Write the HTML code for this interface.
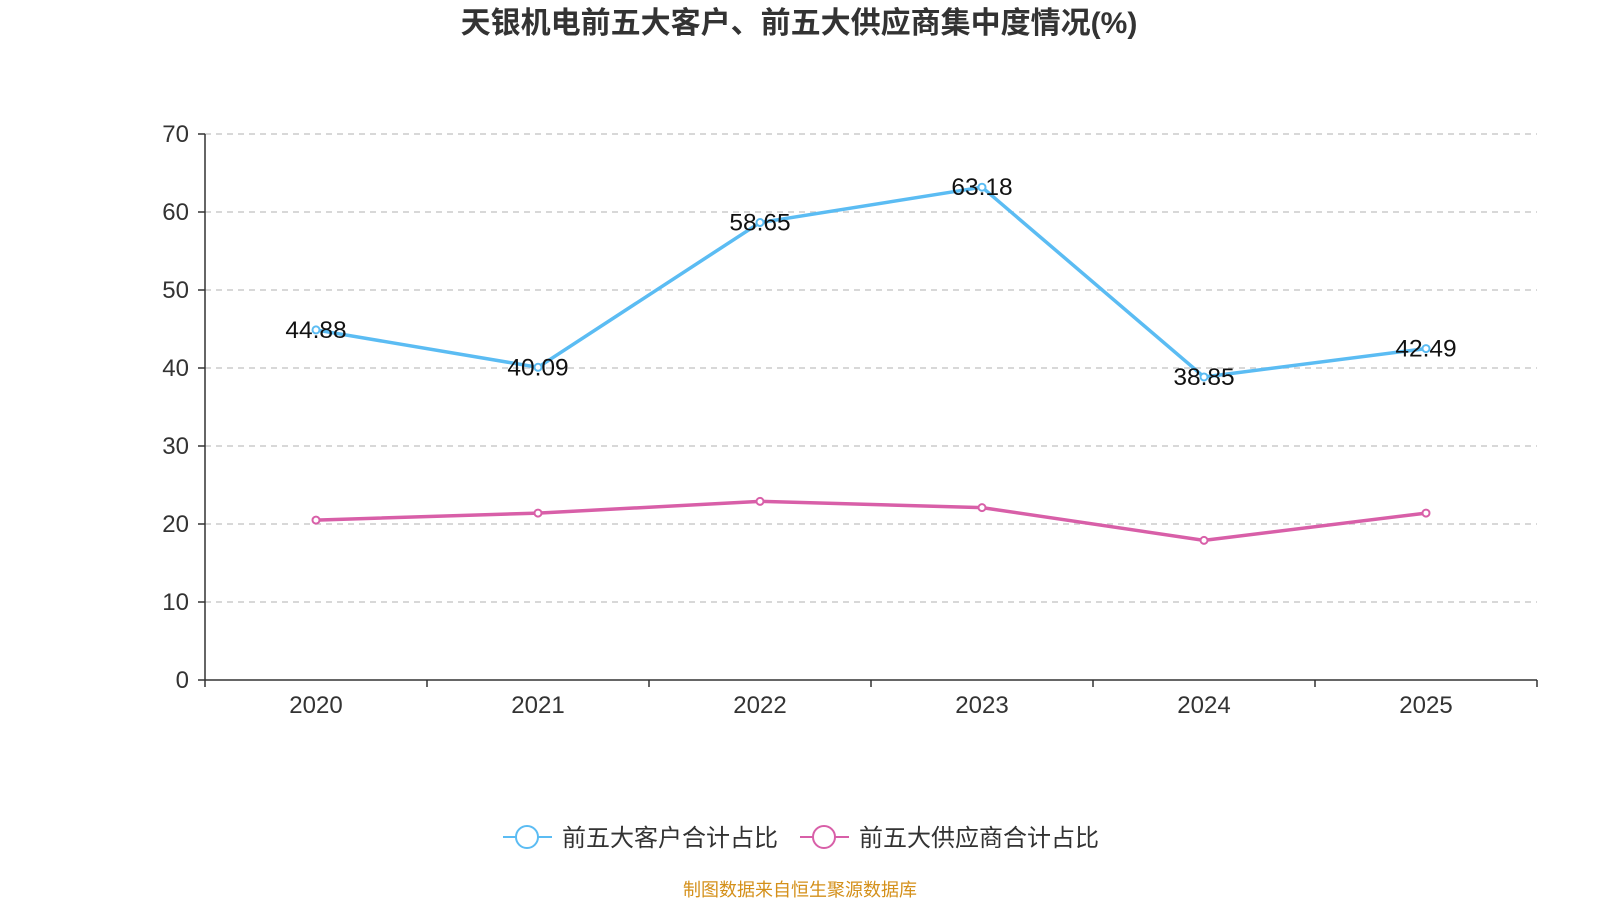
<!DOCTYPE html>
<html><head><meta charset="utf-8">
<style>
body{margin:0;background:#fff;width:1600px;height:900px;overflow:hidden;font-family:"Liberation Sans","Noto Sans CJK SC",sans-serif;}
svg text{font-family:"Liberation Sans","Noto Sans CJK SC",sans-serif;}
</style></head>
<body>
<svg id="chart" width="1600" height="900" xmlns="http://www.w3.org/2000/svg">
<text x="799" y="33" text-anchor="middle" font-size="30" font-weight="bold" fill="#333">天银机电前五大客户、前五大供应商集中度情况(%)</text>
<g id="grid"></g>
<g id="axes"></g>
<g id="series"></g>
<g>
<g>
<line x1="503" y1="837" x2="552" y2="837" stroke="#5bbcf3" stroke-width="2"/>
<circle cx="527" cy="837" r="11" fill="#fff" stroke="#5bbcf3" stroke-width="2"/>
<text x="562" y="846" font-size="24" fill="#333">前五大客户合计占比</text></g>
<g>
<line x1="800" y1="837" x2="849" y2="837" stroke="#d85fa8" stroke-width="2"/>
<circle cx="824" cy="837" r="11" fill="#fff" stroke="#d85fa8" stroke-width="2"/>
<text x="859" y="846" font-size="24" fill="#333">前五大供应商合计占比</text></g>
</g>
<text x="800" y="896" text-anchor="middle" font-size="18" fill="#d4901a">制图数据来自恒生聚源数据库</text>
</svg>
<script>
const categories=["2020","2021","2022","2023","2024","2025"];
const customers=[44.88,40.09,58.65,63.18,38.85,42.49];
const suppliers=[20.5,21.4,22.9,22.1,17.9,21.4];
const yTicks=[0,10,20,30,40,50,60,70];
const NS="http://www.w3.org/2000/svg";
const x0=205,x1=1537,yb=680,yt=134,yMax=70;
const bw=(x1-x0)/categories.length;
const xs=i=>x0+bw*(i+0.5);
const ys=v=>yb-(v/yMax)*(yb-yt);
function mk(tag,attrs,parent,txt){const e=document.createElementNS(NS,tag);for(const k in attrs)e.setAttribute(k,attrs[k]);if(txt!==undefined)e.textContent=txt;parent.appendChild(e);return e;}
const grid=document.getElementById('grid'),axes=document.getElementById('axes'),series=document.getElementById('series');
yTicks.forEach(t=>{
  const y=ys(t);
  if(t>0){const g=mk('line',{x1:x0,x2:x1,y1:y,y2:y,stroke:'#ccc','stroke-width':1.5,'stroke-dasharray':'6,5'},grid);
  
  }
  const tk=mk('line',{x1:x0-7,x2:x0,y1:y,y2:y,stroke:'#333','stroke-width':1.5},axes);
  
  
  const l=mk('text',{x:x0-16,y:y+8,'text-anchor':'end','font-size':24,fill:'#333'},axes,String(t));
  
  
});
const ya=mk('line',{x1:x0,x2:x0,y1:yt,y2:yb,stroke:'#333','stroke-width':1.5},axes);


const xa=mk('line',{x1:x0,x2:x1,y1:yb,y2:yb,stroke:'#333','stroke-width':1.5},axes);


for(let i=0;i<=categories.length;i++){const x=x0+bw*i;const t=mk('line',{x1:x,x2:x,y1:yb,y2:yb+7,stroke:'#333','stroke-width':1.5},axes);

}
categories.forEach((c,i)=>{const l=mk('text',{x:xs(i),y:yb+33,'text-anchor':'middle','font-size':24,fill:'#333'},axes,c);

});
function draw(data,color,name,labels){
  const pts=data.map((v,i)=>xs(i)+','+ys(v)).join(' ');
  const pl=mk('polyline',{points:pts,fill:'none',stroke:color,'stroke-width':3.5,'stroke-linejoin':'round'},series);
  
  
  data.forEach((v,i)=>{
    const c=mk('circle',{cx:xs(i),cy:ys(v),r:3.5,fill:'#fff',stroke:color,'stroke-width':2},series);
    
    
    if(labels){const t=mk('text',{x:xs(i),y:ys(v)+8,'text-anchor':'middle','font-size':24.5,fill:'#111'},series,v.toFixed(2));
    
    }
  });
}
draw(suppliers,'#d85fa8','suppliers',false);
draw(customers,'#5bbcf3','customers',true);
</script>
</body></html>
